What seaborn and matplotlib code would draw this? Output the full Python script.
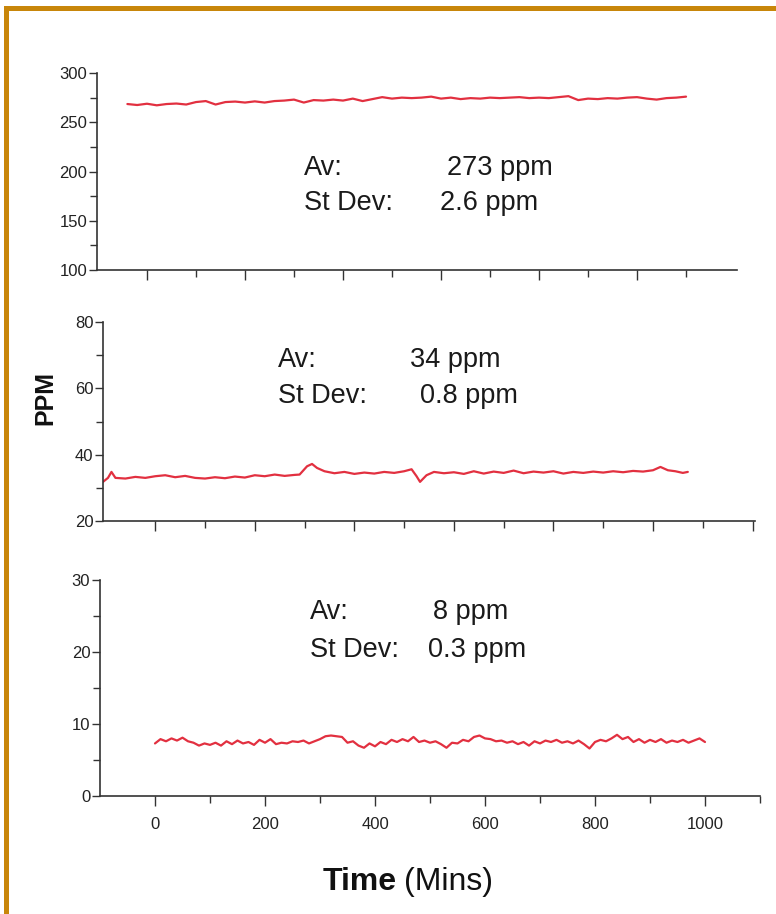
import matplotlib
matplotlib.use("Agg")
import matplotlib.pyplot as plt
import seaborn as sns
from matplotlib.patches import Rectangle

# ---- data ----
top_time = [-40, -20, 0, 20, 40, 60, 80, 100, 120, 140, 160, 180, 200, 220, 240, 260,
            280, 300, 320, 340, 360, 380, 400, 420, 440, 460, 480, 500, 520, 540, 560,
            580, 600, 620, 640, 660, 680, 700, 720, 740, 760, 780, 800, 820, 840, 860,
            880, 900, 920, 940, 960, 980, 1000, 1020, 1040, 1060, 1080, 1100]
top_ppm = [268.5, 267.5, 268.8, 267.2, 268.5, 269.0, 268.0, 270.5, 271.5, 268.0, 270.5,
           271.0, 270.0, 271.2, 270.0, 271.5, 272.0, 273.0, 270.0, 272.5, 272.0, 273.0,
           272.0, 274.0, 271.5, 273.5, 275.5, 274.0, 275.0, 274.5, 275.0, 276.0, 274.0,
           275.0, 273.5, 274.5, 274.0, 275.0, 274.5, 275.0, 275.5, 274.5, 275.0, 274.5,
           275.5, 276.5, 272.5, 274.0, 273.5, 274.5, 274.0, 275.0, 275.5, 274.0, 273.0,
           274.5, 275.0, 276.0]

mid_time = [-105, -95, -88, -80, -60, -40, -20, 0, 20, 40, 60, 80, 100, 120, 140, 160,
            180, 200, 220, 240, 260, 280, 290, 305, 315, 325, 340, 360, 380, 400, 420,
            440, 460, 480, 500, 515, 525, 532, 545, 560, 580, 600, 620, 640, 660, 680,
            700, 720, 740, 760, 780, 800, 820, 840, 860, 880, 900, 920, 940, 960, 980,
            1000, 1015, 1030, 1045, 1060, 1070]
mid_ppm = [31.8, 33.0, 34.8, 33.0, 32.8, 33.3, 33.0, 33.5, 33.8, 33.2, 33.6, 33.0, 32.8,
           33.2, 32.9, 33.4, 33.1, 33.8, 33.5, 34.0, 33.6, 33.9, 34.0, 36.5, 37.2, 36.0,
           35.0, 34.4, 34.8, 34.2, 34.6, 34.3, 34.8, 34.5, 35.0, 35.6, 33.5, 31.8, 33.8,
           34.8, 34.4, 34.7, 34.2, 35.0, 34.3, 34.9, 34.5, 35.2, 34.4, 34.9, 34.6, 35.0,
           34.3, 34.8, 34.5, 34.9, 34.6, 35.0, 34.7, 35.1, 34.9, 35.3, 36.3, 35.3, 35.0,
           34.5, 34.8]

bot_time = [0, 10, 20, 30, 40, 50, 60, 70, 80, 90, 100, 110, 120, 130, 140, 150, 160,
            170, 180, 190, 200, 210, 220, 230, 240, 250, 260, 270, 280, 290, 300, 310,
            320, 330, 340, 350, 360, 370, 380, 390, 400, 410, 420, 430, 440, 450, 460,
            470, 480, 490, 500, 510, 520, 530, 540, 550, 560, 570, 580, 590, 600, 610,
            620, 630, 640, 650, 660, 670, 680, 690, 700, 710, 720, 730, 740, 750, 760,
            770, 780, 790, 800, 810, 820, 830, 840, 850, 860, 870, 880, 890, 900, 910,
            920, 930, 940, 950, 960, 970, 980, 990, 1000]
bot_ppm = [7.3, 7.9, 7.6, 8.0, 7.7, 8.1, 7.6, 7.4, 7.0, 7.3, 7.1, 7.4, 7.0, 7.6, 7.2,
           7.7, 7.3, 7.5, 7.1, 7.8, 7.4, 7.9, 7.2, 7.4, 7.3, 7.6, 7.5, 7.7, 7.3, 7.6, 7.9,
           8.3, 8.4, 8.3, 8.2, 7.4, 7.6, 7.0, 6.7, 7.3, 6.9, 7.5, 7.2, 7.8, 7.5, 7.9, 7.6,
           8.2, 7.5, 7.7, 7.4, 7.6, 7.2, 6.7, 7.4, 7.3, 7.8, 7.6, 8.2, 8.4, 8.0, 7.9, 7.6,
           7.7, 7.4, 7.6, 7.2, 7.5, 7.0, 7.6, 7.3, 7.7, 7.5, 7.8, 7.4, 7.6, 7.3, 7.7, 7.2,
           6.6, 7.5, 7.8, 7.6, 8.0, 8.5, 7.9, 8.2, 7.5, 7.9, 7.4, 7.8, 7.5, 7.9, 7.4, 7.7,
           7.5, 7.8, 7.4, 7.7, 8.0, 7.5]

av_labels = ["273 ppm", "34 ppm", "8 ppm"]
sd_labels = ["2.6 ppm", "0.8 ppm", "0.3 ppm"]

# ---- style ----
sns.set_style("ticks")
plt.rcParams['font.family'] = ['Liberation Sans', 'DejaVu Sans']
RED = '#e23040'
AXC = '#333333'
TXT = '#1a1a1a'

W, H = 776, 914
fig = plt.figure(figsize=(W / 100, H / 100), dpi=100)
fig.patch.set_facecolor('white')


def px_box(left, right, top, bottom):
    return [left / W, 1 - bottom / H, (right - left) / W, (bottom - top) / H]


panels = [
    dict(box=px_box(97, 737, 73, 270), t=top_time, v=top_ppm, xlim=(-102, 1204),
         xmaj=[0, 200, 400, 600, 800, 1000], xmin=[100, 300, 500, 700, 900, 1100],
         ylim=(100, 300), ymaj=[100, 150, 200, 250, 300], ymin=[125, 175, 225, 275],
         txt=(304, 168, 447, 203, 440), xlabels=False),
    dict(box=px_box(103, 755, 322, 521), t=mid_time, v=mid_ppm, xlim=(-105, 1205),
         xmaj=[0, 200, 400, 600, 800, 1000, 1200], xmin=[100, 300, 500, 700, 900, 1100],
         ylim=(20, 80), ymaj=[20, 40, 60, 80], ymin=[30, 50, 70],
         txt=(278, 360, 410, 396, 420), xlabels=False),
    dict(box=px_box(100, 760, 580, 796), t=bot_time, v=bot_ppm, xlim=(-100, 1100),
         xmaj=[0, 200, 400, 600, 800, 1000], xmin=[100, 300, 500, 700, 900, 1100],
         ylim=(0, 30), ymaj=[0, 10, 20, 30], ymin=[5, 15, 25],
         txt=(310, 612, 433, 650, 428), xlabels=True),
]

for i, p in enumerate(panels):
    ax = fig.add_axes(p['box'])
    sns.lineplot(x=p['t'], y=p['v'], ax=ax, color=RED, linewidth=1.6,
                 estimator=None, sort=False)
    ax.set_xlim(*p['xlim'])
    ax.set_ylim(*p['ylim'])
    ax.set_xticks(p['xmaj'])
    ax.set_xticks(p['xmin'], minor=True)
    ax.set_yticks(p['ymaj'])
    ax.set_yticks(p['ymin'], minor=True)
    sns.despine(ax=ax)
    for s in ['left', 'bottom']:
        ax.spines[s].set_color(AXC)
        ax.spines[s].set_linewidth(1.2)
    ax.tick_params(axis='y', which='major', length=6, width=1, color=AXC,
                   labelcolor='#222222', labelsize=12, pad=1)
    ax.tick_params(axis='x', which='major', length=7, width=1, color=AXC,
                   labelcolor='#222222', labelsize=12, pad=8)
    ax.tick_params(which='minor', length=5, width=1, color=AXC)
    if not p['xlabels']:
        ax.set_xticklabels([])
    ax.set_xlabel('')
    ax.set_ylabel('')

    x1, y1, x2, y2, x3 = p['txt']
    fig.text(x1 / W, 1 - y1 / H, "Av:", fontsize=19.5, va='center', ha='left', color=TXT)
    fig.text(x2 / W, 1 - y1 / H, av_labels[i], fontsize=19.5, va='center', ha='left', color=TXT)
    fig.text(x1 / W, 1 - y2 / H, "St Dev:", fontsize=19.5, va='center', ha='left', color=TXT)
    fig.text(x3 / W, 1 - y2 / H, sd_labels[i], fontsize=19.5, va='center', ha='left', color=TXT)

# shared axis labels
fig.text(45 / W, 1 - 398 / H, "PPM", rotation=90, fontsize=18, fontweight='bold',
         ha='center', va='center', color='#111111')
fig.text(397 / W, 1 - 882 / H, "Time", fontsize=23, fontweight='bold',
         ha='right', va='center', color='#111111')
fig.text(404 / W, 1 - 882 / H, "(Mins)", fontsize=23, ha='left', va='center', color='#111111')

# orange frame (top and left edges)
GOLD = '#c8860a'
fig.patches.append(Rectangle((4 / W, 1 - 11 / H), 1 - 4 / W, 5 / H, transform=fig.transFigure,
                             facecolor=GOLD, edgecolor='none'))
fig.patches.append(Rectangle((4 / W, 0), 5 / W, 1 - 6 / H, transform=fig.transFigure,
                             facecolor=GOLD, edgecolor='none'))

fig.savefig('out.png', dpi=100, facecolor='white')
